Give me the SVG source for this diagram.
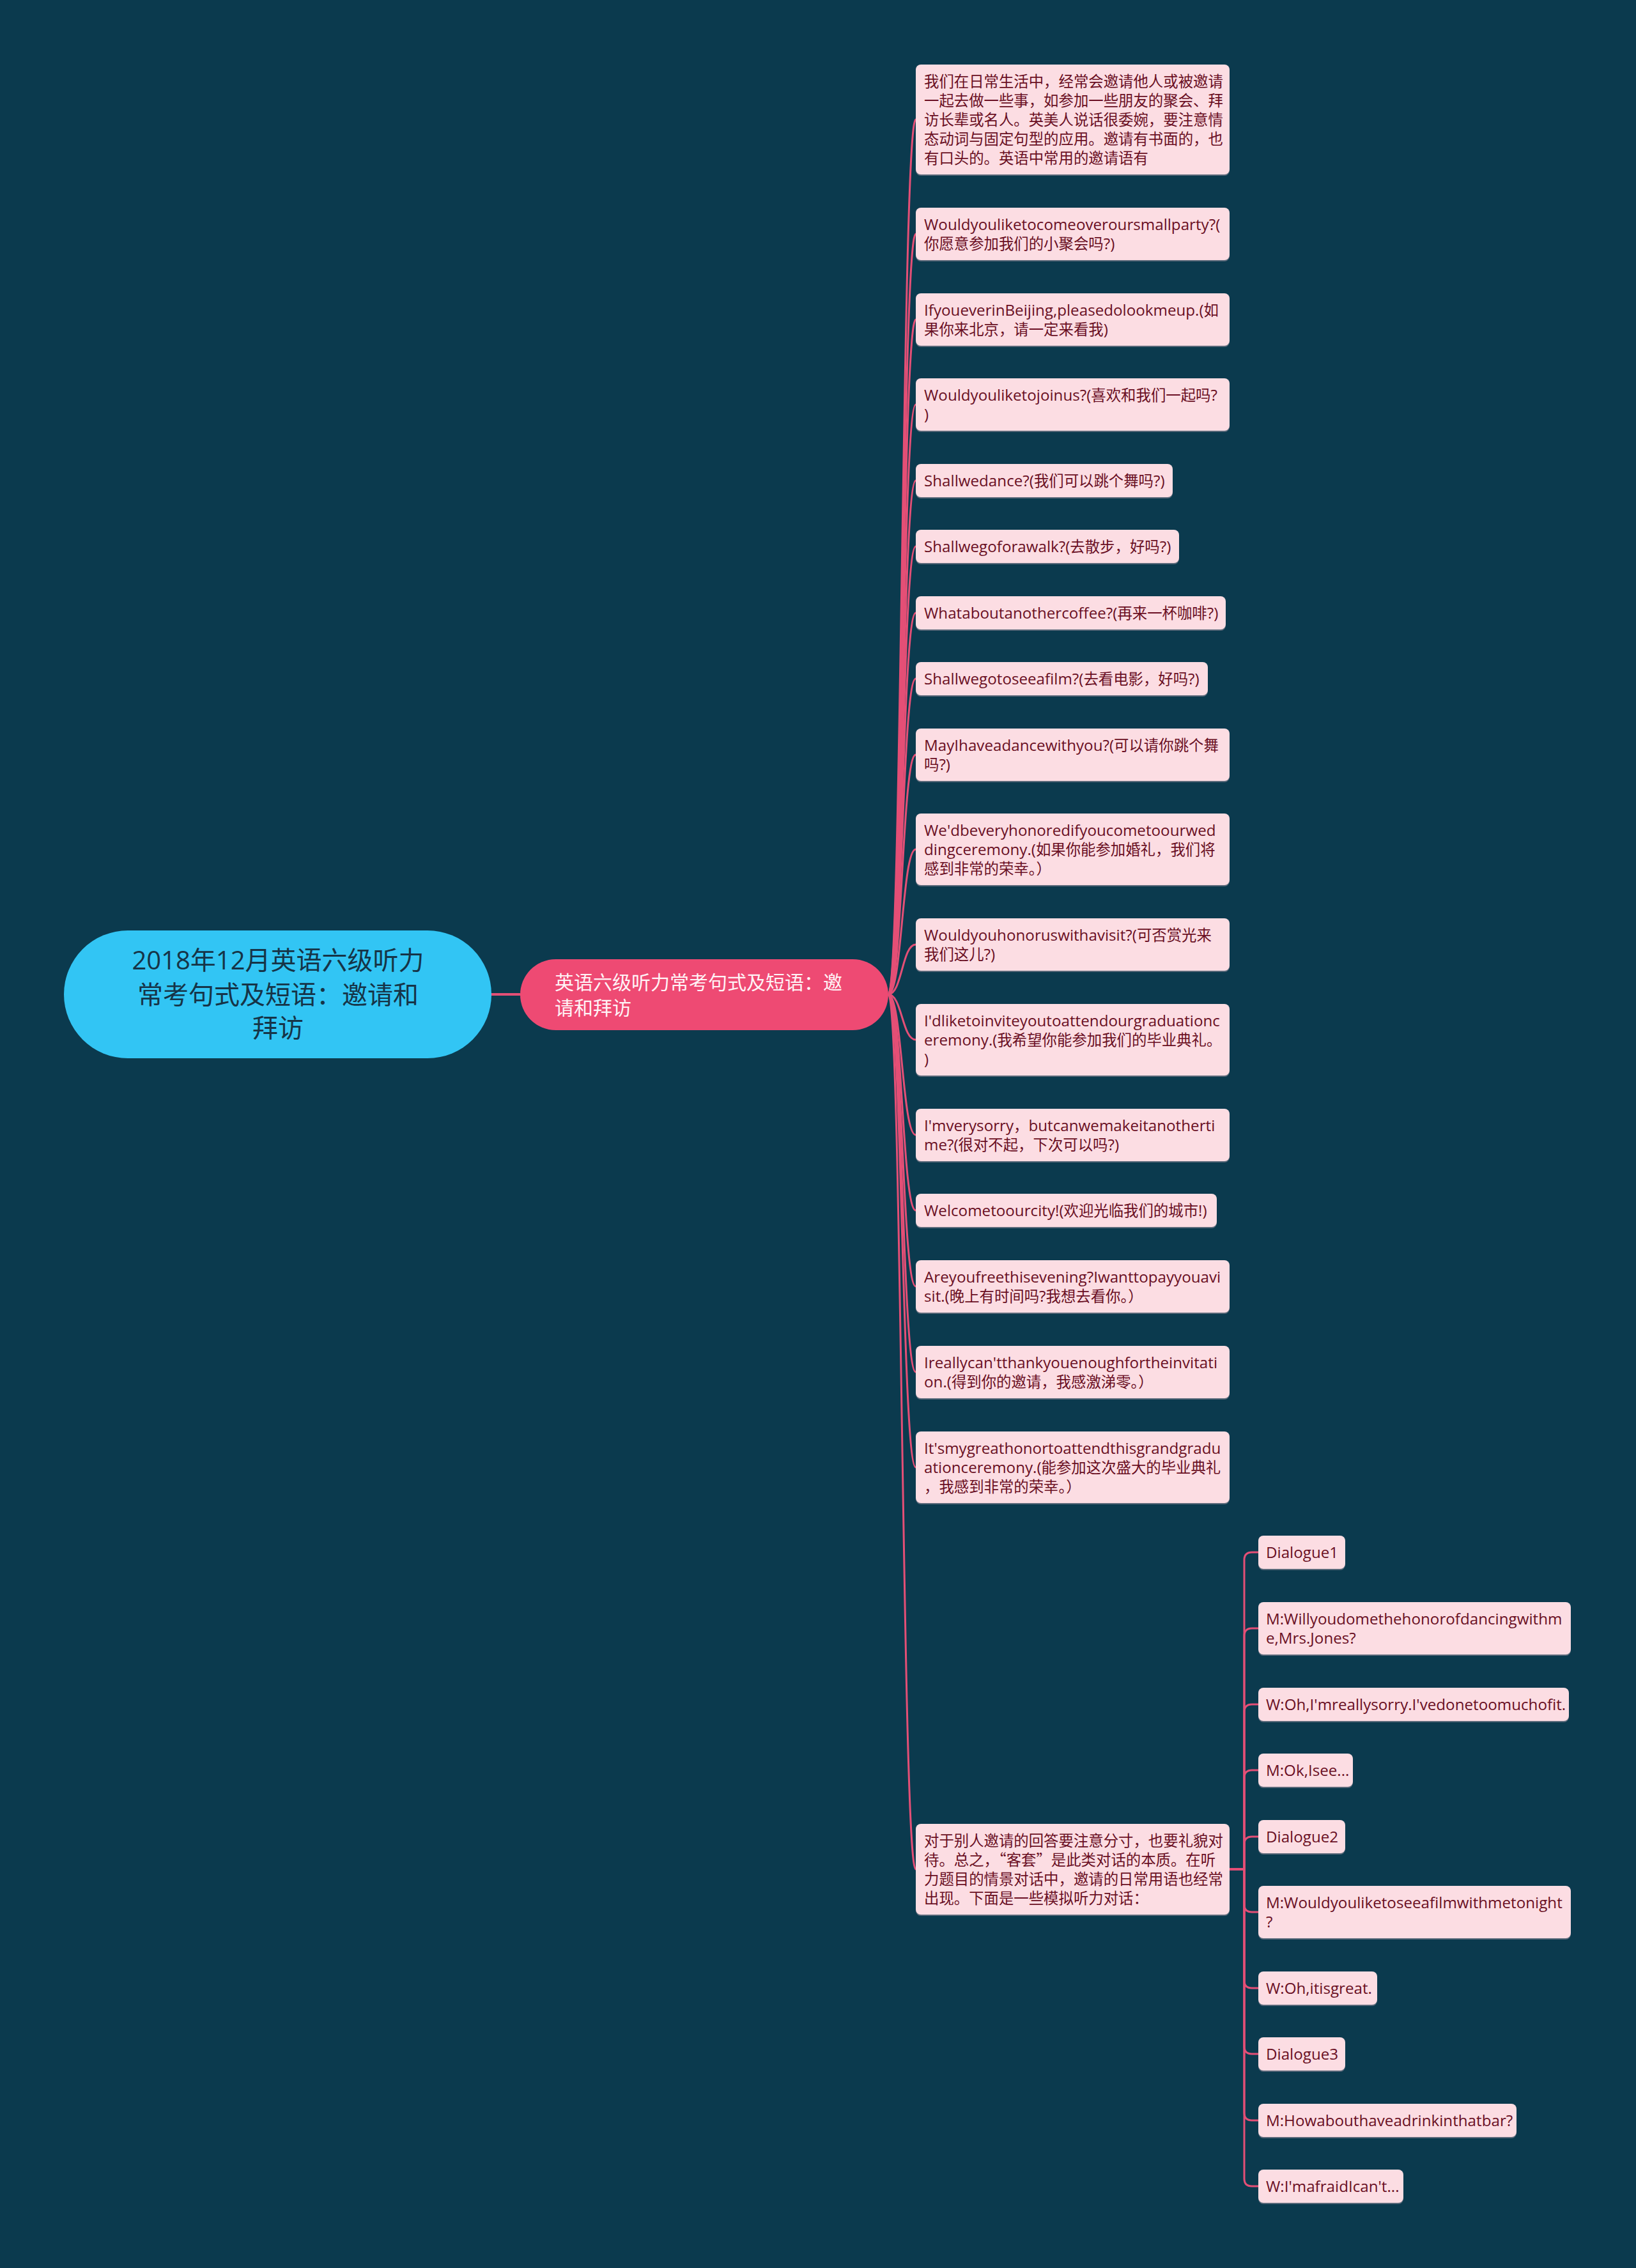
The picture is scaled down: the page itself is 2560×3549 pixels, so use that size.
<svg xmlns="http://www.w3.org/2000/svg" width="2560" height="3549" viewBox="0 0 2560 3549">
<style>
.bg{fill:#0b3a4e}
.edge{fill:none;stroke:#e44f76;stroke-width:3}
.leaf .sh{fill:#9c8f9f;opacity:.55}
.leaf .b{fill:#fcdde3}
.leaf text{font-family:"Open Sans","Noto Sans CJK SC",sans-serif;font-size:24.2px;fill:#6a0f23}
.leaf text.c,.leaf tspan.c{font-family:"Noto Sans CJK SC",sans-serif;font-size:23.4px}
.root text{font-family:"Open Sans","Noto Sans CJK SC",sans-serif;font-size:40px;fill:#163447;text-anchor:middle}
.sub text{font-family:"Open Sans","Noto Sans CJK SC",sans-serif;font-size:30px;fill:#fff3f6}
</style>
<rect class="bg" x="0" y="0" width="2560" height="3549"/>
<g id="connectors">
<path class="edge" style="stroke-width:4" d="M768 1556 L814 1556"/>
<path class="edge" d="M1390 1556 C1411.5 1556 1411.5 187 1433 187"/>
<path class="edge" d="M1390 1556 C1411.5 1556 1411.5 366 1433 366"/>
<path class="edge" d="M1390 1556 C1411.5 1556 1411.5 500 1433 500"/>
<path class="edge" d="M1390 1556 C1411.5 1556 1411.5 633 1433 633"/>
<path class="edge" d="M1390 1556 C1411.5 1556 1411.5 752 1433 752"/>
<path class="edge" d="M1390 1556 C1411.5 1556 1411.5 855 1433 855"/>
<path class="edge" d="M1390 1556 C1411.5 1556 1411.5 959 1433 959"/>
<path class="edge" d="M1390 1556 C1411.5 1556 1411.5 1062 1433 1062"/>
<path class="edge" d="M1390 1556 C1411.5 1556 1411.5 1181 1433 1181"/>
<path class="edge" d="M1390 1556 C1411.5 1556 1411.5 1329 1433 1329"/>
<path class="edge" d="M1390 1556 C1411.5 1556 1411.5 1478 1433 1478"/>
<path class="edge" d="M1390 1556 C1411.5 1556 1411.5 1627 1433 1627"/>
<path class="edge" d="M1390 1556 C1411.5 1556 1411.5 1776 1433 1776"/>
<path class="edge" d="M1390 1556 C1411.5 1556 1411.5 1894 1433 1894"/>
<path class="edge" d="M1390 1556 C1411.5 1556 1411.5 2013 1433 2013"/>
<path class="edge" d="M1390 1556 C1411.5 1556 1411.5 2147 1433 2147"/>
<path class="edge" d="M1390 1556 C1411.5 1556 1411.5 2296 1433 2296"/>
<path class="edge" d="M1390 1556 C1411.5 1556 1411.5 2925 1433 2925"/>
<path class="edge" d="M1924 2925 L1947 2925 L1947 2441 Q1947 2429 1959 2429 L1969 2429"/>
<path class="edge" d="M1924 2925 L1947 2925 L1947 2560 Q1947 2548 1959 2548 L1969 2548"/>
<path class="edge" d="M1924 2925 L1947 2925 L1947 2679 Q1947 2667 1959 2667 L1969 2667"/>
<path class="edge" d="M1924 2925 L1947 2925 L1947 2782 Q1947 2770 1959 2770 L1969 2770"/>
<path class="edge" d="M1924 2925 L1947 2925 L1947 2886 Q1947 2874 1959 2874 L1969 2874"/>
<path class="edge" d="M1924 2925 L1947 2925 L1947 2980 Q1947 2992 1959 2992 L1969 2992"/>
<path class="edge" d="M1924 2925 L1947 2925 L1947 3099 Q1947 3111 1959 3111 L1969 3111"/>
<path class="edge" d="M1924 2925 L1947 2925 L1947 3202 Q1947 3214 1959 3214 L1969 3214"/>
<path class="edge" d="M1924 2925 L1947 2925 L1947 3306 Q1947 3318 1959 3318 L1969 3318"/>
<path class="edge" d="M1924 2925 L1947 2925 L1947 3409 Q1947 3421 1959 3421 L1969 3421"/>
</g>
<g id="root" class="root">
<rect x="100" y="1456" width="669" height="200" rx="100" fill="#32c5f4"/>
<text x="435" y="1517">2018年12月英语六级听力</text>
<text x="435" y="1571">常考句式及短语：邀请和</text>
<text x="435" y="1623">拜访</text>
</g>
<g id="n-main" class="sub">
<rect x="814" y="1501" width="576" height="111" rx="55.5" fill="#ee4a73"/>
<text x="868" y="1548">英语六级听力常考句式及短语：邀</text>
<text x="868" y="1588">请和拜访</text>
</g>
<g id="n1" class="leaf"><rect class="sh" x="1433" y="103" width="491" height="172" rx="8"/><rect class="b" x="1433" y="101" width="491" height="172" rx="8"/>
<text class="c" x="1446" y="136">我们在日常生活中，经常会邀请他人或被邀请</text>
<text class="c" x="1446" y="166">一起去做一些事，如参加一些朋友的聚会、拜</text>
<text class="c" x="1446" y="196">访长辈或名人。英美人说话很委婉，要注意情</text>
<text class="c" x="1446" y="226">态动词与固定句型的应用。邀请有书面的，也</text>
<text class="c" x="1446" y="256">有口头的。英语中常用的邀请语有</text></g>
<g id="n2" class="leaf"><rect class="sh" x="1433" y="327" width="491" height="82" rx="8"/><rect class="b" x="1433" y="325" width="491" height="82" rx="8"/>
<text x="1446" y="360">Wouldyouliketocomeoveroursmallparty?(</text>
<text x="1446" y="390"><tspan class="c">你愿意参加我们的小聚会吗</tspan>?)</text></g>
<g id="n3" class="leaf"><rect class="sh" x="1433" y="461" width="491" height="82" rx="8"/><rect class="b" x="1433" y="459" width="491" height="82" rx="8"/>
<text x="1446" y="494">IfyoueverinBeijing,pleasedolookmeup.(<tspan class="c">如</tspan></text>
<text x="1446" y="524"><tspan class="c">果你来北京，请一定来看我</tspan>)</text></g>
<g id="n4" class="leaf"><rect class="sh" x="1433" y="594" width="491" height="82" rx="8"/><rect class="b" x="1433" y="592" width="491" height="82" rx="8"/>
<text x="1446" y="627">Wouldyouliketojoinus?(<tspan class="c">喜欢和我们一起吗</tspan>?</text>
<text x="1446" y="657">)</text></g>
<g id="n5" class="leaf"><rect class="sh" x="1433" y="728" width="402" height="52" rx="8"/><rect class="b" x="1433" y="726" width="402" height="52" rx="8"/>
<text x="1446" y="761">Shallwedance?(<tspan class="c">我们可以跳个舞吗</tspan>?)</text></g>
<g id="n6" class="leaf"><rect class="sh" x="1433" y="831" width="412" height="52" rx="8"/><rect class="b" x="1433" y="829" width="412" height="52" rx="8"/>
<text x="1446" y="864">Shallwegoforawalk?(<tspan class="c">去散步，好吗</tspan>?)</text></g>
<g id="n7" class="leaf"><rect class="sh" x="1433" y="935" width="485" height="52" rx="8"/><rect class="b" x="1433" y="933" width="485" height="52" rx="8"/>
<text x="1446" y="968">Whataboutanothercoffee?(<tspan class="c">再来一杯咖啡</tspan>?)</text></g>
<g id="n8" class="leaf"><rect class="sh" x="1433" y="1038" width="457" height="52" rx="8"/><rect class="b" x="1433" y="1036" width="457" height="52" rx="8"/>
<text x="1446" y="1071">Shallwegotoseeafilm?(<tspan class="c">去看电影，好吗</tspan>?)</text></g>
<g id="n9" class="leaf"><rect class="sh" x="1433" y="1142" width="491" height="82" rx="8"/><rect class="b" x="1433" y="1140" width="491" height="82" rx="8"/>
<text x="1446" y="1175">MayIhaveadancewithyou?(<tspan class="c">可以请你跳个舞</tspan></text>
<text x="1446" y="1205"><tspan class="c">吗</tspan>?)</text></g>
<g id="n10" class="leaf"><rect class="sh" x="1433" y="1275" width="491" height="112" rx="8"/><rect class="b" x="1433" y="1273" width="491" height="112" rx="8"/>
<text x="1446" y="1308">We'dbeveryhonoredifyoucometoourwed</text>
<text x="1446" y="1338">dingceremony.(<tspan class="c">如果你能参加婚礼，我们将</tspan></text>
<text x="1446" y="1368"><tspan class="c">感到非常的荣幸。）</tspan></text></g>
<g id="n11" class="leaf"><rect class="sh" x="1433" y="1439" width="491" height="82" rx="8"/><rect class="b" x="1433" y="1437" width="491" height="82" rx="8"/>
<text x="1446" y="1472">Wouldyouhonoruswithavisit?(<tspan class="c">可否赏光来</tspan></text>
<text x="1446" y="1502"><tspan class="c">我们这儿</tspan>?)</text></g>
<g id="n12" class="leaf"><rect class="sh" x="1433" y="1573" width="491" height="112" rx="8"/><rect class="b" x="1433" y="1571" width="491" height="112" rx="8"/>
<text x="1446" y="1606">I'dliketoinviteyoutoattendourgraduationc</text>
<text x="1446" y="1636">eremony.(<tspan class="c">我希望你能参加我们的毕业典礼。</tspan></text>
<text x="1446" y="1666">)</text></g>
<g id="n13" class="leaf"><rect class="sh" x="1433" y="1737" width="491" height="82" rx="8"/><rect class="b" x="1433" y="1735" width="491" height="82" rx="8"/>
<text x="1446" y="1770">I'mverysorry<tspan class="c">，</tspan>butcanwemakeitanotherti</text>
<text x="1446" y="1800">me?(<tspan class="c">很对不起，下次可以吗</tspan>?)</text></g>
<g id="n14" class="leaf"><rect class="sh" x="1433" y="1870" width="471" height="52" rx="8"/><rect class="b" x="1433" y="1868" width="471" height="52" rx="8"/>
<text x="1446" y="1903">Welcometoourcity!(<tspan class="c">欢迎光临我们的城市</tspan>!)</text></g>
<g id="n15" class="leaf"><rect class="sh" x="1433" y="1974" width="491" height="82" rx="8"/><rect class="b" x="1433" y="1972" width="491" height="82" rx="8"/>
<text x="1446" y="2007">Areyoufreethisevening?Iwanttopayyouavi</text>
<text x="1446" y="2037">sit.(<tspan class="c">晚上有时间吗</tspan>?<tspan class="c">我想去看你。）</tspan></text></g>
<g id="n16" class="leaf"><rect class="sh" x="1433" y="2108" width="491" height="82" rx="8"/><rect class="b" x="1433" y="2106" width="491" height="82" rx="8"/>
<text x="1446" y="2141">Ireallycan'tthankyouenoughfortheinvitati</text>
<text x="1446" y="2171">on.(<tspan class="c">得到你的邀请，我感激涕零。）</tspan></text></g>
<g id="n17" class="leaf"><rect class="sh" x="1433" y="2242" width="491" height="112" rx="8"/><rect class="b" x="1433" y="2240" width="491" height="112" rx="8"/>
<text x="1446" y="2275">It'smygreathonortoattendthisgrandgradu</text>
<text x="1446" y="2305">ationceremony.(<tspan class="c">能参加这次盛大的毕业典礼</tspan></text>
<text x="1446" y="2335"><tspan class="c">，我感到非常的荣幸。）</tspan></text></g>
<g id="n18" class="leaf"><rect class="sh" x="1433" y="2856" width="491" height="142" rx="8"/><rect class="b" x="1433" y="2854" width="491" height="142" rx="8"/>
<text class="c" x="1446" y="2889">对于别人邀请的回答要注意分寸，也要礼貌对</text>
<text class="c" x="1446" y="2919">待。总之，“客套”是此类对话的本质。在听</text>
<text class="c" x="1446" y="2949">力题目的情景对话中，邀请的日常用语也经常</text>
<text class="c" x="1446" y="2979">出现。下面是一些模拟听力对话：</text></g>
<g id="d1" class="leaf"><rect class="sh" x="1969" y="2405" width="136" height="52" rx="8"/><rect class="b" x="1969" y="2403" width="136" height="52" rx="8"/>
<text x="1981" y="2438">Dialogue1</text></g>
<g id="d2" class="leaf"><rect class="sh" x="1969" y="2509" width="489" height="82" rx="8"/><rect class="b" x="1969" y="2507" width="489" height="82" rx="8"/>
<text x="1981" y="2542">M:Willyoudomethehonorofdancingwithm</text>
<text x="1981" y="2572">e,Mrs.Jones?</text></g>
<g id="d3" class="leaf"><rect class="sh" x="1969" y="2643" width="486" height="52" rx="8"/><rect class="b" x="1969" y="2641" width="486" height="52" rx="8"/>
<text x="1981" y="2676">W:Oh,I'mreallysorry.I'vedonetoomuchofit.</text></g>
<g id="d4" class="leaf"><rect class="sh" x="1969" y="2746" width="148" height="52" rx="8"/><rect class="b" x="1969" y="2744" width="148" height="52" rx="8"/>
<text x="1981" y="2779">M:Ok,Isee...</text></g>
<g id="d5" class="leaf"><rect class="sh" x="1969" y="2850" width="136" height="52" rx="8"/><rect class="b" x="1969" y="2848" width="136" height="52" rx="8"/>
<text x="1981" y="2883">Dialogue2</text></g>
<g id="d6" class="leaf"><rect class="sh" x="1969" y="2953" width="489" height="82" rx="8"/><rect class="b" x="1969" y="2951" width="489" height="82" rx="8"/>
<text x="1981" y="2986">M:Wouldyouliketoseeafilmwithmetonight</text>
<text x="1981" y="3016">?</text></g>
<g id="d7" class="leaf"><rect class="sh" x="1969" y="3087" width="186" height="52" rx="8"/><rect class="b" x="1969" y="3085" width="186" height="52" rx="8"/>
<text x="1981" y="3120">W:Oh,itisgreat.</text></g>
<g id="d8" class="leaf"><rect class="sh" x="1969" y="3190" width="136" height="52" rx="8"/><rect class="b" x="1969" y="3188" width="136" height="52" rx="8"/>
<text x="1981" y="3223">Dialogue3</text></g>
<g id="d9" class="leaf"><rect class="sh" x="1969" y="3294" width="404" height="52" rx="8"/><rect class="b" x="1969" y="3292" width="404" height="52" rx="8"/>
<text x="1981" y="3327">M:Howabouthaveadrinkinthatbar?</text></g>
<g id="d10" class="leaf"><rect class="sh" x="1969" y="3397" width="227" height="52" rx="8"/><rect class="b" x="1969" y="3395" width="227" height="52" rx="8"/>
<text x="1981" y="3430">W:I'mafraidIcan't...</text></g>
</svg>
